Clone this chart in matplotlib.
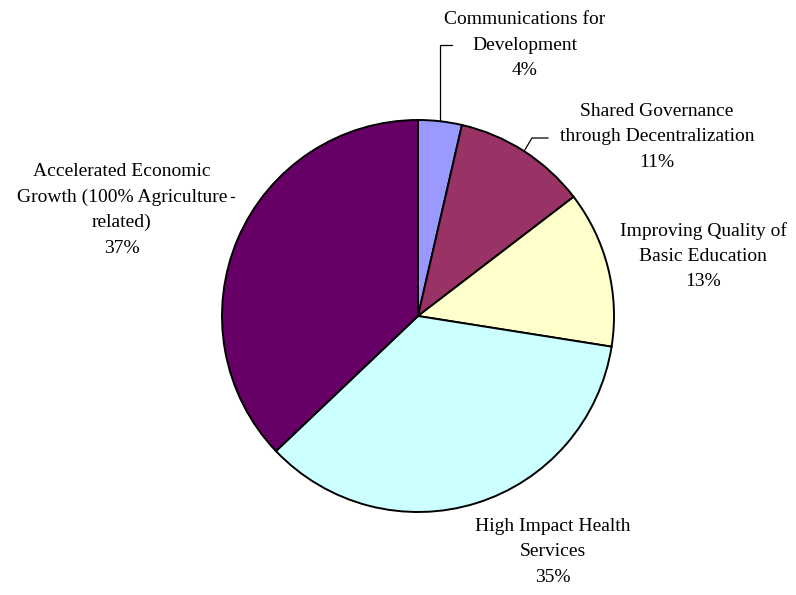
import numpy as np
import matplotlib.pyplot as plt

plt.rcParams.update({
    "font.family": "Liberation Serif",
    "font.size": 14,
})

categories = ["Communications for\nDevelopment",
              "Shared Governance\nthrough Decentralization",
              "Improving Quality of\nBasic Education",
              "High Impact Health\nServices",
              "Accelerated Economic\nGrowth (100% Agriculture\nrelated)"]
shares = [3.6, 11.0, 12.9, 35.4, 37.1]
colors = ["#9999FF", "#993366", "#FFFFCC", "#CCFFFF", "#660066"]

# label centres in pixels (x from left, y from top of a 796x595 canvas)
label_px = [(525, 45), (657, 137), (703, 256), (553, 552), (122, 210)]

W, H = 796, 595
cx, cy, R = 418, 316, 196

fig = plt.figure(figsize=(W / 100, H / 100), dpi=100)
ax = fig.add_axes([0, 0, 1, 1])
ax.axis("off")

wedges, _ = ax.pie(shares, colors=colors, startangle=90, counterclock=False,
                   radius=1, center=(0, 0),
                   wedgeprops=dict(edgecolor="black", linewidth=1.4))
ax.set_xlim(-cx / R, (W - cx) / R)
ax.set_ylim((cy - H) / R, cy / R)
ax.set_aspect("equal")


def px(x, y):
    return (x - cx) / R, (cy - y) / R


for name, val, (lx, ly) in zip(categories, shares, label_px):
    tx, ty = px(lx, ly)
    ax.text(tx, ty, f"{name}\n{round(val):d}%", ha="center", va="center",
            linespacing=1.62)

# leader lines
th = np.deg2rad(90 - 360 * shares[0] / 200)
sx, sy = np.cos(th), np.sin(th)
ax.plot([sx, sx, px(452, 45)[0]], [sy, px(0, 45)[1], px(0, 45)[1]],
        color="black", lw=0.9)

th = np.deg2rad(90 - 360 * (shares[0] + shares[1] / 2) / 100)
sx, sy = np.cos(th), np.sin(th)
ax.plot([sx, px(532, 0)[0], px(548, 0)[0]],
        [sy, px(0, 138)[1], px(0, 138)[1]], color="black", lw=0.9)

ax.plot([px(231, 0)[0], px(234, 0)[0]], [px(0, 197)[1]] * 2,
        color="black", lw=0.9)

fig.savefig("out.png", dpi=100)
